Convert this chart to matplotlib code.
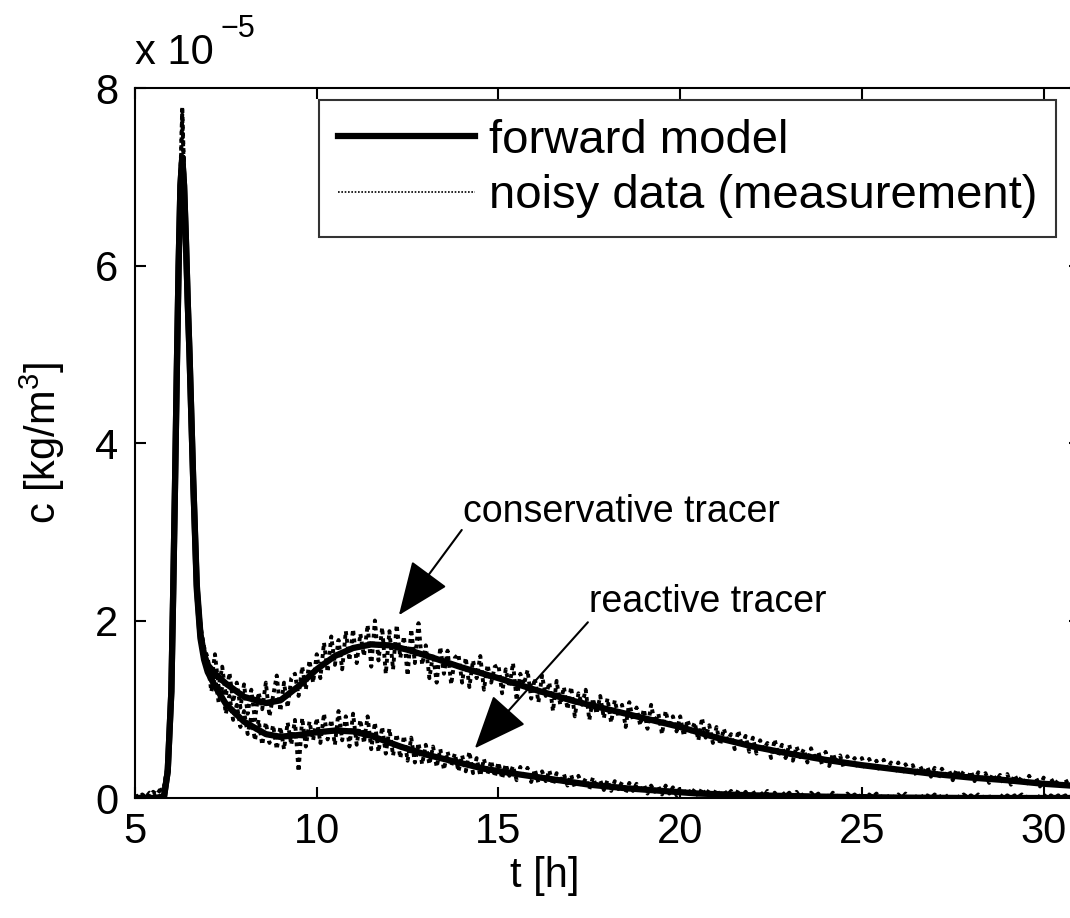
import numpy as np
import matplotlib
matplotlib.use("Agg")
import matplotlib.pyplot as plt

plt.rcParams['font.family'] = ['Liberation Sans', 'DejaVu Sans']
plt.rcParams['mathtext.fontset'] = 'custom'
plt.rcParams['mathtext.rm'] = 'Liberation Sans'
plt.rcParams['mathtext.it'] = 'Liberation Sans:italic'
plt.rcParams['mathtext.default'] = 'regular'

# forward model (values in 1e-5 kg/m^3)
t_cons = [5.0, 5.6, 5.8, 5.9, 6.0, 6.05, 6.1, 6.15, 6.2, 6.25,
          6.3, 6.35, 6.4, 6.45, 6.5, 6.6, 6.7, 6.8, 6.9, 7.0,
          7.2, 7.5, 8.0, 8.6, 9.0, 9.5, 10.0, 10.5, 11.0, 11.5,
          12.0, 12.5, 13.2, 14.0, 15.0, 16.0, 17.0, 18.0, 19.0, 20.0,
          21.0, 22.0, 23.0, 24.0, 25.0, 26.0, 27.0, 28.0, 29.0, 30.0, 31.1]
c_cons = [0, 0, 0.02, 0.3, 1.2, 2.3, 3.5, 4.8, 6.0, 6.9,
          7.22, 6.9, 6.3, 5.6, 5.0, 3.6, 2.4, 1.85, 1.62, 1.5,
          1.4, 1.29, 1.14, 1.07, 1.10, 1.26, 1.45, 1.60, 1.69, 1.73,
          1.72, 1.67, 1.58, 1.47, 1.35, 1.22, 1.10, 1.00, 0.90, 0.80,
          0.68, 0.58, 0.50, 0.43, 0.37, 0.32, 0.27, 0.23, 0.20, 0.16, 0.13]

t_reac = [5.0, 5.6, 5.8, 5.9, 6.0, 6.05, 6.1, 6.15, 6.2, 6.25,
          6.3, 6.35, 6.4, 6.45, 6.5, 6.6, 6.7, 6.8, 6.9, 7.0,
          7.2, 7.5, 7.67, 8.0, 8.6, 9.0, 9.5, 10.0, 10.5, 11.0,
          11.5, 12.3, 13.0, 13.7, 14.6, 15.5, 16.5, 17.5, 18.5, 19.5,
          20.5, 22.0, 24.0, 26.0, 28.0, 31.1]
c_reac = [0, 0, 0.02, 0.3, 1.2, 2.3, 3.5, 4.8, 6.0, 6.9,
          7.22, 6.9, 6.3, 5.6, 5.0, 3.6, 2.35, 1.8, 1.56, 1.42,
          1.26, 1.06, 0.99, 0.86, 0.72, 0.69, 0.71, 0.74, 0.76, 0.75,
          0.70, 0.58, 0.49, 0.42, 0.33, 0.27, 0.21, 0.15, 0.11, 0.08,
          0.05, 0.03, 0.015, 0.005, 0.0, 0.0]

# noisy measurements, sampled every 0.1 h starting at t = 5.0 h
noisy_cons = [
    0.01, 0.03, 0.00, 0.05, 0.02, 0.07, 0.04, 0.10, 0.12, 0.38,
    1.25, 3.55, 6.25, 7.79, 6.35, 4.95, 3.65, 2.45, 1.95, 1.70,
    1.58, 1.32, 1.62, 1.25, 1.48, 1.15, 1.41, 1.08, 1.30, 1.02,
    1.28, 0.95, 1.22, 0.88, 1.19, 1.00, 1.30, 0.92, 1.15, 1.38,
    0.98, 1.30, 1.02, 1.35, 1.40, 1.15, 1.48, 1.22, 1.55, 1.30,
    1.62, 1.35, 1.75, 1.42, 1.82, 1.50, 1.78, 1.45, 1.88, 1.55,
    1.90, 1.52, 1.85, 1.60, 1.95, 1.48, 2.00, 1.55, 1.92, 1.40,
    1.88, 1.45, 1.95, 1.58, 1.82, 1.38, 1.90, 1.52, 1.97, 1.50,
    1.72, 1.35, 1.62, 1.30, 1.70, 1.40, 1.66, 1.28, 1.58, 1.62,
    1.30, 1.58, 1.25, 1.55, 1.35, 1.60, 1.22, 1.50, 1.30, 1.48,
    1.50, 1.18, 1.45, 1.25, 1.52, 1.10, 1.40, 1.28, 1.44, 1.12,
    1.35, 1.08, 1.38, 1.15, 1.30, 0.98, 1.32, 1.05, 1.25, 1.00,
    1.25, 0.92, 1.18, 1.05, 1.22, 0.88, 1.12, 0.95, 1.15, 0.90,
    1.12, 0.85, 1.10, 0.92, 1.05, 0.80, 1.08, 0.88, 1.02, 0.82,
    1.00, 0.78, 1.05, 0.85, 0.95, 0.72, 0.98, 0.80, 0.92, 0.75,
    0.92, 0.70, 0.88, 0.75, 0.85, 0.65, 0.90, 0.68, 0.82, 0.62,
    0.80, 0.60, 0.78, 0.65, 0.72, 0.55, 0.76, 0.58, 0.70, 0.52,
    0.68, 0.50, 0.65, 0.55, 0.62, 0.45, 0.66, 0.48, 0.60, 0.45,
    0.60, 0.42, 0.58, 0.46, 0.55, 0.40, 0.56, 0.43, 0.52, 0.38,
    0.52, 0.36, 0.50, 0.40, 0.48, 0.34, 0.47, 0.38, 0.45, 0.33,
    0.45, 0.32, 0.44, 0.35, 0.42, 0.30, 0.43, 0.33, 0.40, 0.28,
    0.40, 0.27, 0.38, 0.30, 0.37, 0.25, 0.36, 0.28, 0.35, 0.24,
    0.34, 0.22, 0.33, 0.26, 0.31, 0.20, 0.32, 0.24, 0.30, 0.21,
    0.30, 0.19, 0.29, 0.22, 0.28, 0.17, 0.27, 0.20, 0.26, 0.16,
    0.27, 0.15, 0.26, 0.18, 0.24, 0.14, 0.25, 0.17, 0.22, 0.13,
    0.23, 0.12, 0.22, 0.15, 0.20, 0.11, 0.21, 0.13, 0.19, 0.10,
    0.18, 0.12]

noisy_reac = [
    0.02, 0.00, 0.04, 0.01, 0.06, 0.03, 0.05, 0.09, 0.11, 0.36,
    1.22, 3.50, 6.20, 7.70, 6.30, 4.90, 3.55, 2.35, 1.85, 1.55,
    1.52, 1.20, 1.38, 1.08, 1.25, 0.95, 1.15, 0.88, 1.05, 0.80,
    0.98, 0.72, 0.92, 0.65, 0.88, 0.60, 0.85, 0.62, 0.82, 0.55,
    0.80, 0.55, 0.85, 0.60, 0.88, 0.30, 0.90, 0.58, 0.86, 0.65,
    0.90, 0.62, 0.95, 0.66, 0.88, 0.60, 0.98, 0.65, 0.92, 0.58,
    0.95, 0.60, 0.88, 0.62, 0.92, 0.55, 0.85, 0.52, 0.80, 0.50,
    0.78, 0.48, 0.72, 0.45, 0.70, 0.42, 0.68, 0.40, 0.62, 0.38,
    0.60, 0.38, 0.58, 0.35, 0.55, 0.32, 0.52, 0.36, 0.50, 0.30,
    0.48, 0.30, 0.52, 0.28, 0.45, 0.25, 0.44, 0.27, 0.42, 0.24,
    0.40, 0.22, 0.38, 0.25, 0.36, 0.20, 0.35, 0.22, 0.34, 0.18,
    0.32, 0.17, 0.30, 0.19, 0.31, 0.15, 0.28, 0.17, 0.27, 0.14,
    0.26, 0.12, 0.25, 0.14, 0.22, 0.10, 0.23, 0.12, 0.20, 0.09,
    0.20, 0.08, 0.19, 0.10, 0.18, 0.06, 0.17, 0.08, 0.16, 0.06,
    0.15, 0.05, 0.14, 0.07, 0.13, 0.04, 0.14, 0.05, 0.12, 0.03,
    0.12, 0.03, 0.11, 0.04, 0.10, 0.02, 0.11, 0.03, 0.09, 0.01,
    0.10, 0.01, 0.09, 0.03, 0.08, 0.00, 0.09, 0.02, 0.07, 0.01,
    0.08, 0.00, 0.07, 0.02, 0.08, 0.01, 0.06, 0.00, 0.07, 0.02,
    0.06, 0.00, 0.07, 0.01, 0.05, 0.00, 0.06, 0.02, 0.05, 0.00,
    0.05, 0.00, 0.06, 0.01, 0.04, 0.00, 0.05, 0.01, 0.04, 0.00,
    0.05, 0.00, 0.04, 0.01, 0.05, 0.00, 0.03, 0.01, 0.04, 0.00,
    0.04, 0.00, 0.05, 0.00, 0.03, 0.01, 0.04, 0.00, 0.03, 0.00,
    0.04, 0.00, 0.03, 0.01, 0.04, 0.00, 0.03, 0.00, 0.04, 0.01,
    0.03, 0.00, 0.04, 0.00, 0.03, 0.01, 0.03, 0.00, 0.04, 0.00,
    0.03, 0.00, 0.03, 0.01, 0.04, 0.00, 0.03, 0.00, 0.03, 0.01,
    0.04, 0.00, 0.03, 0.00, 0.03, 0.01, 0.03, 0.00, 0.04, 0.00,
    0.03, 0.00]

t_noisy = 5.0 + 0.1 * np.arange(len(noisy_cons))

fig = plt.figure(figsize=(10.7, 9.18), dpi=100)
ax = fig.add_axes([135/1070, 120/918, 945/1070, 710/918])

ax.plot(t_cons, c_cons, color='k', lw=4.5, solid_joinstyle='round', label='forward model')
ax.plot(t_reac, c_reac, color='k', lw=4.5, solid_joinstyle='round')
ax.plot(t_noisy, noisy_cons, color='k', lw=2.8, linestyle=(0, (1, 1.0)),
        label='noisy data (measurement)')
ax.plot(t_noisy, noisy_reac, color='k', lw=2.8, linestyle=(0, (1, 1.0)))

ax.set_xlim(5, 31)
ax.set_ylim(0, 8)
ax.set_xticks([5, 10, 15, 20, 25, 30])
ax.set_yticks([0, 2, 4, 6, 8])
ax.tick_params(direction='in', top=True, right=True, length=8, width=1.5,
               labelsize=30)
ax.tick_params(axis='x', pad=10)
ax.tick_params(axis='y', pad=12)
for s in ax.spines.values():
    s.set_linewidth(1.5)

ax.set_xlabel('t [h]', fontsize=30)
ax.xaxis.set_label_coords(0.434, -0.082)
ax.set_ylabel('c [kg/m$^3$]', fontsize=30)
ax.yaxis.set_label_coords(-0.072, 0.5)
fig.text(135/1070, 1 - 64/918, 'x 10', fontsize=30, ha='left', va='baseline')
fig.text(220/1070, 1 - 37/918, '\u22125', fontsize=22, ha='left', va='baseline')

leg = ax.legend(loc='upper right', bbox_to_anchor=(0.975, 0.983), borderaxespad=0,
                fontsize=34, frameon=True, fancybox=False, handlelength=2.9,
                handletextpad=0.3, labelspacing=0.24, borderpad=0.4)
leg.get_frame().set_edgecolor('k')
leg.get_frame().set_linewidth(1.5)
leg.get_lines()[1].set_linewidth(1.2)

arrow = dict(arrowstyle='-|>,head_length=1.7,head_width=0.7', color='k', lw=1.5,
             mutation_scale=20, shrinkA=0, shrinkB=0)
ax.annotate('', xy=(12.26, 2.06), xytext=(13.99, 3.02), arrowprops=arrow)
ax.annotate('', xy=(14.35, 0.56), xytext=(17.46, 1.98), arrowprops=arrow)
ax.text(14.02, 3.11, 'conservative tracer', fontsize=27, ha='left', va='baseline')
ax.text(17.49, 2.10, 'reactive tracer', fontsize=27, ha='left', va='baseline')

fig.savefig('out.png', dpi=100)
